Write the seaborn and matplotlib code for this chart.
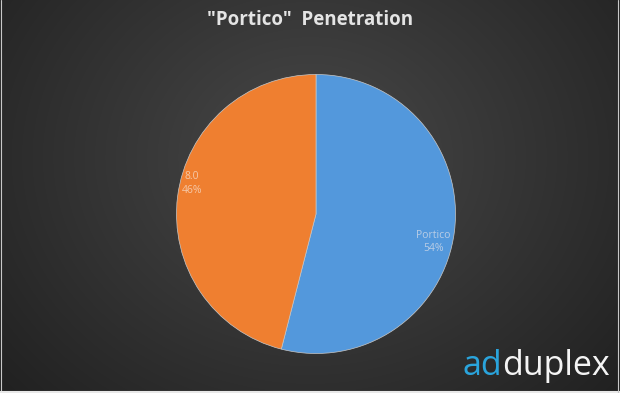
import numpy as np
import matplotlib
matplotlib.use("Agg")
import matplotlib.pyplot as plt
import seaborn as sns

categories = ["Portico", "8.0"]
values = [54, 46]
pct_labels = ["54%", "46%"]
colors = ["#5398dc", "#ef7f30"]
title = "\"Portico\"  Penetration"

sns.set_theme(style="dark")
plt.rcParams['font.family'] = ['Open Sans', 'DejaVu Sans']

W, H = 620, 393
fig = plt.figure(figsize=(W/100, H/100), dpi=100)

# radial gradient background
bg = fig.add_axes([0, 0, 1, 1])
yy, xx = np.mgrid[0:H, 0:W]
d = np.sqrt(((xx - W*0.5)/(W*0.6))**2 + ((yy - H*0.4)/(H*0.8))**2)
g = np.clip(0.285 - 0.14*d, 0.13, 0.3)
img = np.dstack([g, g, g])
bg.imshow(img, extent=[0, W, H, 0], aspect='auto')
bg.set_xlim(0, W); bg.set_ylim(H, 0)
bg.plot([0.5, 0.5], [0, H], color='#c8c8c8', lw=0.8)
bg.plot([0, W], [H-1.5, H-1.5], color='#e8e8e8', lw=1.5)
bg.plot([W-2.5, W-2.5], [0, H], color='#c8c8c8', lw=0.8)
bg.axis('off')

# pie
cx, cy, r = 316, 214, 139.5
ax = fig.add_axes([(cx - r)/W, 1 - (cy + r)/H, 2*r/W, 2*r/H])
ax.set_facecolor('none')
wedges, _ = ax.pie(values, colors=colors, startangle=90, counterclock=False,
                   wedgeprops=dict(linewidth=0.5, edgecolor='#c8c8c8'))
ax.set_aspect('equal')
ax.set_xlim(-1, 1); ax.set_ylim(-1, 1)
ax.axis('off')

# data labels (Excel best-fit placement)
label_pos = [(0.84, -0.20), (-0.89, 0.22)]
label_cols = ['#b9cde6', '#f5c8a8']
for (lx, ly), cat, p, c in zip(label_pos, categories, pct_labels, label_cols):
    ax.text(lx, ly, f"{cat}\n{p}", ha='center', va='center', color=c,
            fontsize=7.5, linespacing=1.3)

fig.text(0.5, 1 - 20/H, title, ha='center', va='center', color='#e4e4e4',
         fontsize=13.5, fontweight='bold')

# logo
t1 = fig.text(462/W, 1 - 366/H, "ad", ha='left', va='center', color='#2aa4dc',
              fontsize=24.5, family=['Open Sans', 'DejaVu Sans'])
fig.canvas.draw()
bb = t1.get_window_extent(renderer=fig.canvas.get_renderer())
fig.text(bb.x1/W, 1 - 366/H, "duplex", ha='left', va='center', color='#f4f4f4',
         fontsize=24.5, family=['Open Sans', 'DejaVu Sans'])

fig.savefig("out.png", dpi=100)
